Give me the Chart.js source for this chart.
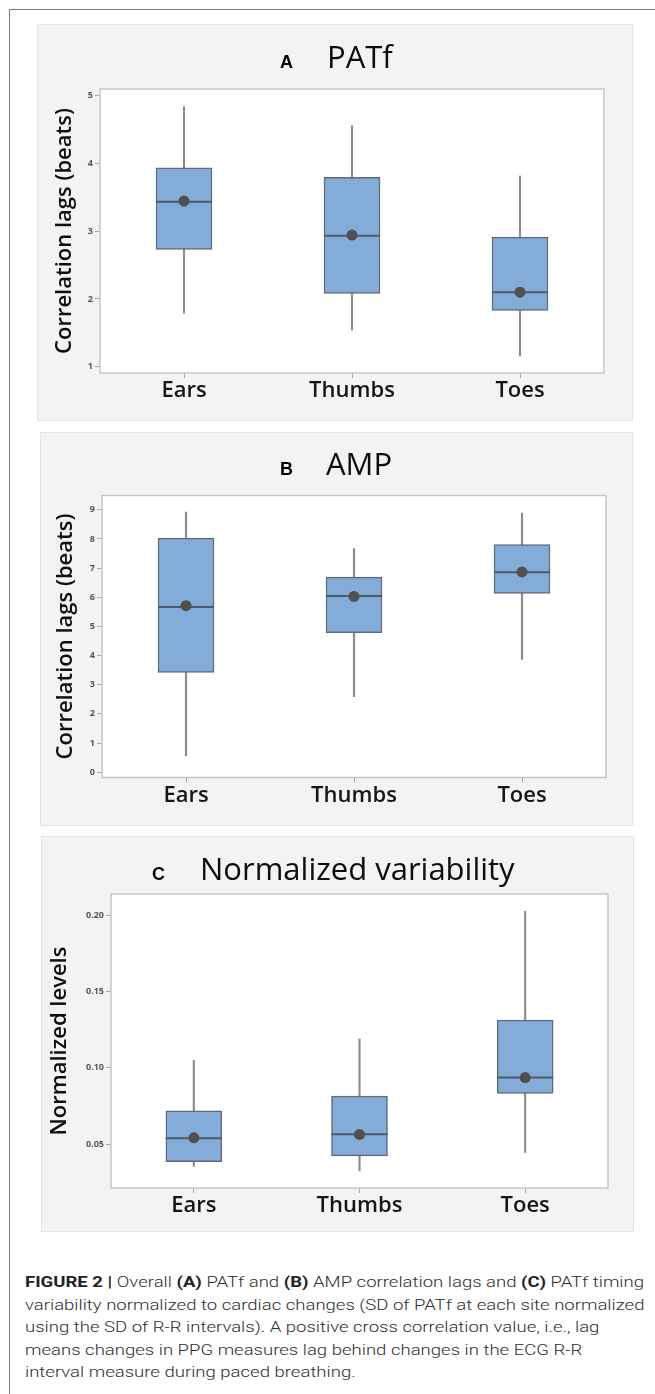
<!DOCTYPE html>
<html><head><meta charset="utf-8">
<script src="https://cdn.jsdelivr.net/npm/chart.js@4.4.0/dist/chart.umd.min.js"></script>
<style>
html,body{margin:0;padding:0;background:#fff;}
body{width:655px;height:1394px;position:relative;overflow:hidden;font-family:"Open Sans",sans-serif;}
.frame-top{position:absolute;left:9px;top:9px;width:646px;height:1px;background:#7a7a7a;}
.frame-left{position:absolute;left:9px;top:9px;width:1px;height:1385px;background:#7a7a7a;}
.panel{position:absolute;background:#f2f3f5;box-shadow:inset 0 0 0 1px #e3e4e6;}
.panel canvas{position:absolute;left:0;top:0;}
.ttl{position:absolute;display:flex;align-items:baseline;white-space:nowrap;line-height:1;}
.ttl .lt{font-family:"Liberation Sans",Arial,sans-serif;font-weight:bold;font-size:18px;color:#000;}
.ttl .nm{font-family:"Open Sans",sans-serif;font-weight:500;font-size:31px;color:#0d0d0d;}
.caption{position:absolute;left:25px;top:1271px;font-family:Roboto,"Liberation Sans",sans-serif;font-weight:300;font-size:15.5px;line-height:22.5px;color:#2e2e2e;white-space:nowrap;transform-origin:0 0;}
.caption b{font-weight:700;color:#222;}
</style>
</head>
<body>
<div class="frame-top"></div>
<div class="frame-left"></div>

<div class="panel" style="left:37px;top:24px;width:596px;height:397px;">
  <canvas id="cA" width="596" height="397"></canvas>
  <div class="ttl" style="left:243px;top:16.5px;"><span class="lt">A</span><span class="nm" style="margin-left:34px;">PATf</span></div>
</div>
<div class="panel" style="left:40px;top:432px;width:593px;height:394px;">
  <canvas id="cB" width="593" height="394"></canvas>
  <div class="ttl" style="left:240px;top:15.5px;"><span class="lt">B</span><span class="nm" style="margin-left:33px;">AMP</span></div>
</div>
<div class="panel" style="left:41px;top:836px;width:593px;height:396px;">
  <canvas id="cC" width="593" height="396"></canvas>
  <div class="ttl" style="left:111px;top:16.5px;"><span class="lt">C</span><span class="nm" style="margin-left:35px;">Normalized variability</span></div>
</div>

<div class="caption" id="cap"><span id="l1"><b>FIGURE 2 |</b> Overall <b>(A)</b> PATf and <b>(B)</b> AMP correlation lags and <b>(C)</b> PATf timing</span><br>variability normalized to cardiac changes (SD of PATf at each site normalized<br>using the SD of R-R intervals). A positive cross correlation value, i.e., lag<br>means changes in PPG measures lag behind changes in the ECG R-R<br>interval measure during paced breathing.</div>

<script>
// ---- data ----
const categories = ['Ears', 'Thumbs', 'Toes'];

// Panel A: PATf correlation lags (beats)
const patfMin  = [1.79, 1.54, 1.16];
const patfQ1   = [2.73, 2.08, 1.83];
const patfMed  = [3.43, 2.93, 2.10];
const patfQ3   = [3.93, 3.79, 2.91];
const patfMax  = [4.83, 4.55, 3.81];
const patfMean = [3.44, 2.94, 2.10];
const patfTicks = [1, 2, 3, 4, 5];
const patfTickLabels = ['1', '2', '3', '4', '5'];

// Panel B: AMP correlation lags (beats)
const ampMin  = [0.56, 2.59, 3.87];
const ampQ1   = [3.42, 4.79, 6.13];
const ampMed  = [5.67, 6.04, 6.86];
const ampQ3   = [8.03, 6.69, 7.81];
const ampMax  = [8.92, 7.67, 8.89];
const ampMean = [5.71, 6.03, 6.87];
const ampTicks = [0, 1, 2, 3, 4, 5, 6, 7, 8, 9];
const ampTickLabels = ['0', '1', '2', '3', '4', '5', '6', '7', '8', '9'];

// Panel C: Normalized variability
const nvMin  = [0.0354, 0.0325, 0.0445];
const nvQ1   = [0.0384, 0.0423, 0.0832];
const nvMed  = [0.0539, 0.0565, 0.0936];
const nvQ3   = [0.0718, 0.0814, 0.1313];
const nvMax  = [0.1050, 0.1190, 0.2026];
const nvMean = [0.0541, 0.0563, 0.0936];
const nvTicks = [0.05, 0.10, 0.15, 0.20];
const nvTickLabels = ['0.05', '0.10', '0.15', '0.20'];

// ---- plugins ----
const framePlugin = {
  id: 'frame',
  beforeDraw(chart) {
    const a = chart.chartArea, c = chart.ctx;
    c.save();
    c.fillStyle = '#ffffff';
    c.fillRect(a.left, a.top, a.right - a.left, a.bottom - a.top);
    c.restore();
  },
  afterDraw(chart) {
    const a = chart.chartArea, c = chart.ctx;
    c.save();
    c.strokeStyle = '#c6c6c6';
    c.lineWidth = 1.5;
    c.strokeRect(a.left, a.top, a.right - a.left, a.bottom - a.top);
    c.restore();
  }
};
const medianPlugin = {
  id: 'median',
  afterDatasetDraw(chart, args) {
    const ds = chart.data.datasets[args.index];
    if (!ds.medians) return;
    const y = chart.scales.y, c = chart.ctx;
    c.save();
    c.strokeStyle = '#4f5965';
    c.lineWidth = 2;
    args.meta.data.forEach((bar, i) => {
      const py = y.getPixelForValue(ds.medians[i]);
      c.beginPath();
      c.moveTo(bar.x - bar.width / 2, py);
      c.lineTo(bar.x + bar.width / 2, py);
      c.stroke();
    });
    c.restore();
  }
};

function boxChart(id, o) {
  return new Chart(document.getElementById(id), {
    data: {
      labels: categories,
      datasets: [
        { type: 'bar', data: categories.map((c, i) => [o.min[i], o.max[i]]), barThickness: 1.5,
          backgroundColor: '#8c8c8c', grouped: false, order: 3 },
        { type: 'bar', data: categories.map((c, i) => [o.q1[i], o.q3[i]]), barThickness: 56,
          backgroundColor: '#84acd9', borderColor: '#5f6b78', borderWidth: 1.5, borderSkipped: false,
          grouped: false, order: 2, medians: o.med },
        { type: 'line', data: o.mean, showLine: false, pointRadius: 5.5, pointBackgroundColor: '#4f4f4f',
          pointBorderColor: '#4f4f4f', pointBorderWidth: 0, order: 1 }
      ]
    },
    options: {
      responsive: false, animation: false, events: [],
      layout: { padding: { left: 0, right: o.padR, top: o.padT, bottom: 0 } },
      plugins: { legend: { display: false }, tooltip: { enabled: false } },
      scales: {
        x: {
          type: 'category', offset: true,
          grid: { offset: false, drawOnChartArea: false, drawTicks: true, tickLength: 5, color: '#a8a8a8' },
          border: { display: false },
          ticks: { font: { family: 'Open Sans', size: 22, weight: '600' }, color: '#161616', padding: 0 },
          afterFit: s => { s.height = o.xh; }
        },
        y: {
          min: o.ymin, max: o.ymax,
          afterBuildTicks: a => { a.ticks = o.ticks.map(v => ({ value: v })); },
          grid: { drawOnChartArea: false, drawTicks: true, tickLength: 5, color: '#a8a8a8' },
          border: { display: false },
          ticks: { font: { family: 'Open Sans', size: 9, weight: '700' }, color: '#555555', padding: 2,
                   callback: (v, i) => o.labels[i] },
          title: { display: true, text: o.yTitle, font: { family: 'Open Sans', size: 22, weight: '600' },
                   color: '#0f0f0f', padding: { top: o.tp, bottom: 0 } },
          afterFit: s => { s.width = o.yw; }
        }
      }
    },
    plugins: [framePlugin, medianPlugin]
  });
}

boxChart('cA', { min: patfMin, q1: patfQ1, med: patfMed, q3: patfQ3, max: patfMax, mean: patfMean,
  ticks: patfTicks, labels: patfTickLabels, ymin: 0.91, ymax: 5.09, yTitle: 'Correlation lags (beats)',
  padR: 29, padT: 65, xh: 48, yw: 63, tp: 14.5 });
boxChart('cB', { min: ampMin, q1: ampQ1, med: ampMed, q3: ampQ3, max: ampMax, mean: ampMean,
  ticks: ampTicks, labels: ampTickLabels, ymin: -0.18, ymax: 9.49, yTitle: 'Correlation lags (beats)',
  padR: 27, padT: 63.5, xh: 48.5, yw: 62, tp: 13 });
boxChart('cC', { min: nvMin, q1: nvQ1, med: nvMed, q3: nvQ3, max: nvMax, mean: nvMean,
  ticks: nvTicks, labels: nvTickLabels, ymin: 0.0212, ymax: 0.214, yTitle: 'Normalized levels',
  padR: 26, padT: 58, xh: 44, yw: 70, tp: 5.5 });

// fit caption width to the reference line width
(function () {
  const w = document.getElementById('l1').getBoundingClientRect().width;
  const k = 619 / w;
  document.getElementById('cap').style.transform = 'scaleX(' + k + ')';
})();
</script>
</body></html>
